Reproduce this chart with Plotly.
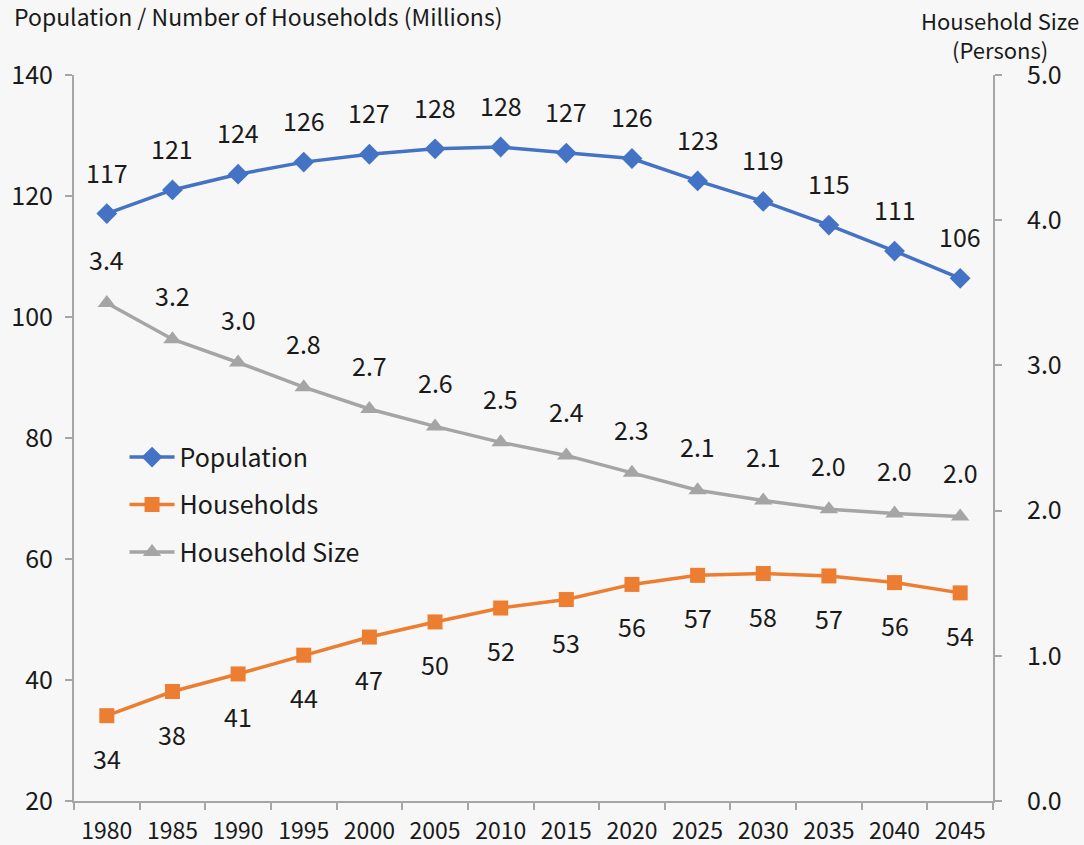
import plotly.graph_objects as go

years = ["1980", "1985", "1990", "1995", "2000", "2005", "2010", "2015", "2020", "2025", "2030", "2035", "2040", "2045"]
population = [117.1, 121.0, 123.6, 125.6, 126.9, 127.8, 128.1, 127.1, 126.2, 122.5, 119.1, 115.2, 110.9, 106.4]
households = [34.1, 38.1, 41.0, 44.1, 47.1, 49.6, 51.9, 53.3, 55.8, 57.3, 57.6, 57.2, 56.1, 54.4]
household_size = [3.43, 3.18, 3.02, 2.85, 2.70, 2.58, 2.47, 2.38, 2.26, 2.14, 2.07, 2.01, 1.98, 1.96]

pop_labels = ["117", "121", "124", "126", "127", "128", "128", "127", "126", "123", "119", "115", "111", "106"]
hh_labels = ["34", "38", "41", "44", "47", "50", "52", "53", "56", "57", "58", "57", "56", "54"]
size_labels = ["3.4", "3.2", "3.0", "2.8", "2.7", "2.6", "2.5", "2.4", "2.3", "2.1", "2.1", "2.0", "2.0", "2.0"]

BLUE = "#4472C4"
ORANGE = "#ED7D31"
GRAY = "#A5A5A5"
FONT = "Noto Sans CJK JP"
TXT = "#1a1a1a"
AXC = "#a6a6a6"
LBL = 25

fig = go.Figure()
fig.add_trace(go.Scatter(x=years, y=population, name="Population", mode="lines+markers",
                         legendgroup="a",
                         line=dict(color=BLUE, width=3.5),
                         marker=dict(symbol="diamond", size=16, color=BLUE)))
fig.add_trace(go.Scatter(x=years, y=households, name="Households", mode="lines+markers",
                         legendgroup="b",
                         line=dict(color=ORANGE, width=3.5),
                         marker=dict(symbol="square", size=15, color=ORANGE)))
fig.add_trace(go.Scatter(x=years, y=household_size, name="Household Size", mode="lines+markers",
                         legendgroup="c",
                         line=dict(color=GRAY, width=3.5),
                         marker=dict(symbol="triangle-up", size=16, color=GRAY),
                         yaxis="y2"))

annots = []
for i, (y, t) in enumerate(zip(population, pop_labels)):
    annots.append(dict(x=i, y=y, text=t, showarrow=False, yshift=42, xref="x", yref="y",
                       font=dict(size=LBL, color=TXT, family=FONT)))
for i, (y, t) in enumerate(zip(households, hh_labels)):
    annots.append(dict(x=i, y=y, text=t, showarrow=False, yshift=-42, xref="x", yref="y",
                       font=dict(size=LBL, color=TXT, family=FONT)))
for i, (y, t) in enumerate(zip(household_size, size_labels)):
    annots.append(dict(x=i, y=y, text=t, showarrow=False, yshift=44, xref="x", yref="y2",
                       font=dict(size=LBL, color=TXT, family=FONT)))
annots.append(dict(x=0, y=1.0, xref="paper", yref="paper", xanchor="left", yanchor="bottom",
                   xshift=-62, yshift=40, text="Population / Number of Households (Millions)",
                   showarrow=False, align="left", font=dict(size=23, color=TXT, family=FONT)))
annots.append(dict(x=1.0, y=1.0, xref="paper", yref="paper", xanchor="center", yanchor="middle",
                   xshift=7, yshift=55, text="Household Size",
                   showarrow=False, align="center", font=dict(size=22, color=TXT, family=FONT)))
annots.append(dict(x=1.0, y=1.0, xref="paper", yref="paper", xanchor="center", yanchor="middle",
                   xshift=7, yshift=26, text="(Persons)",
                   showarrow=False, align="center", font=dict(size=22, color=TXT, family=FONT)))

fig.update_layout(
    width=1084, height=845,
    margin=dict(l=74, r=91, t=75, b=44, autoexpand=False),
    paper_bgcolor="#f7f7f7", plot_bgcolor="#f7f7f7",
    font=dict(family=FONT, color=TXT, size=22),
    showlegend=True,
    legend=dict(x=0.055, y=0.505, xanchor="left", yanchor="top", bgcolor="rgba(0,0,0,0)",
                font=dict(size=25, color=TXT, family=FONT), tracegroupgap=12, itemwidth=45),
    annotations=annots,
    xaxis=dict(type="category", range=[-0.5, 13.5], showgrid=False, showline=True, linecolor=AXC, linewidth=2,
               ticks="outside", tickson="boundaries", ticklen=7, tickcolor=AXC, tickwidth=1.5,
               tickangle=0, ticklabelstandoff=8, automargin=False,
               tickfont=dict(size=23, color=TXT, family=FONT), zeroline=False),
    yaxis=dict(range=[20, 140], dtick=20, showgrid=False, showline=True, linecolor=AXC, linewidth=2,
               ticks="outside", ticklen=7, tickcolor=AXC, tickwidth=1.5, zeroline=False,
               ticklabelstandoff=7, automargin=False,
               tickfont=dict(size=25, color=TXT, family=FONT)),
    yaxis2=dict(range=[0, 5], dtick=1, tickformat=".1f", overlaying="y", side="right",
                showgrid=False, showline=True, linecolor=AXC, linewidth=2,
                ticks="outside", ticklen=7, tickcolor=AXC, tickwidth=1.5, zeroline=False,
                ticklabelstandoff=20, automargin=False,
                tickfont=dict(size=25, color=TXT, family=FONT)),
)

fig.write_html("out.html")
